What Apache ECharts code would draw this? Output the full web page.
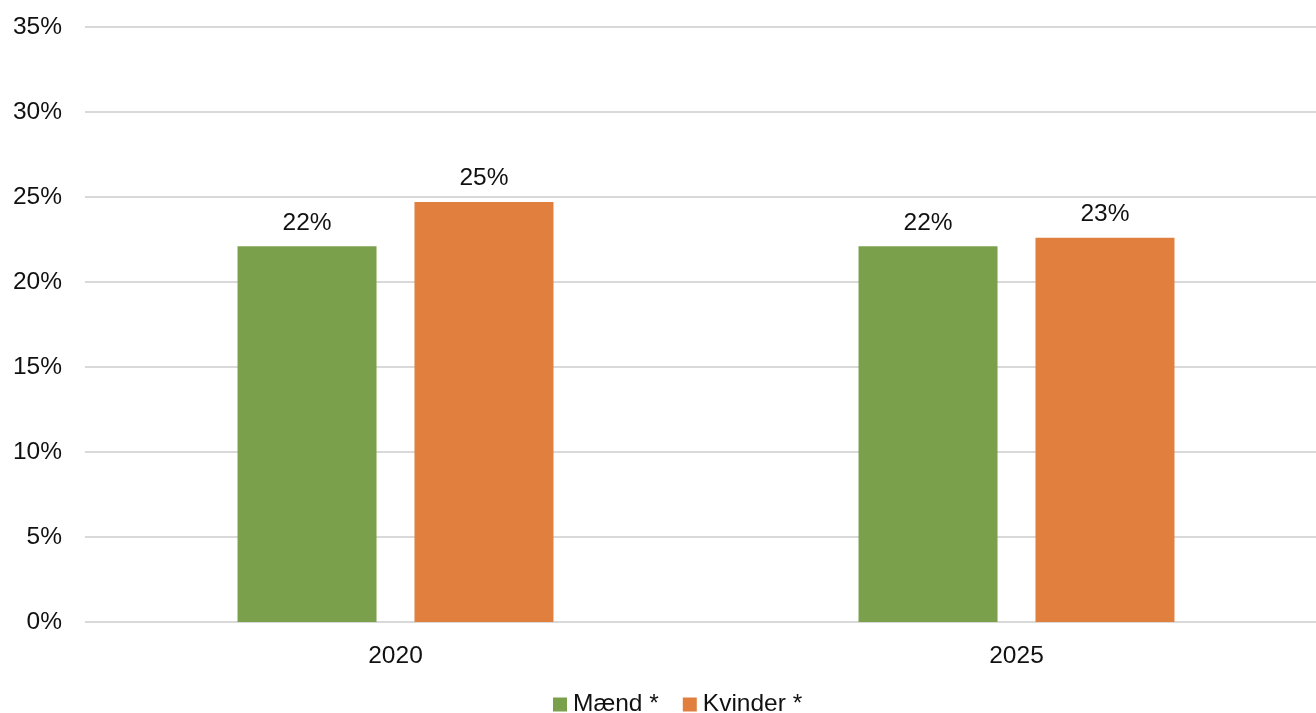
<!DOCTYPE html>
<html>
<head>
<meta charset="utf-8">
<style>
  html, body { margin: 0; padding: 0; background: #fff; }
  #chart { width: 1316px; height: 713px; }
</style>
<script src="https://cdn.jsdelivr.net/npm/echarts@6/dist/echarts.min.js"></script>
</head>
<body>
<div id="chart"></div>
<script>
// Andel i procent fordelt på køn og år
const years = ['2020', '2025'];
const maend = [22.1, 22.1];
const kvinder = [24.7, 22.6];
const yTicks = [0, 5, 10, 15, 20, 25, 30, 35];

const font = '"Liberation Sans", Arial, sans-serif';
const textColor = '#111';
const fs = 24.5;

const chart = echarts.init(document.getElementById('chart'), null, { renderer: 'canvas' });

const labelStyle = {
  show: true,
  position: 'top',
  distance: 11,
  fontFamily: font,
  fontSize: fs,
  color: textColor,
  formatter: p => Math.round(p.value) + '%'
};

chart.setOption({
  animation: false,
  backgroundColor: '#fff',
  textStyle: { fontFamily: font },
  // plot area runs slightly past the right edge of the canvas
  grid: { left: 85, width: 1242, top: 27, bottom: 91, containLabel: false, outerBoundsMode: 'none' },
  legend: {
    top: 687,
    left: 548,
    itemWidth: 14,
    itemHeight: 14,
    itemGap: 24,
    icon: 'rect',
    textStyle: { fontFamily: font, fontSize: fs, color: textColor, padding: [0, 0, 0, 1] },
    data: ['Mænd *', 'Kvinder *']
  },
  xAxis: {
    type: 'category',
    data: years,
    axisLine: { show: false },
    axisTick: { show: false },
    axisLabel: { fontFamily: font, fontSize: fs, color: textColor, margin: 22 }
  },
  yAxis: {
    type: 'value',
    min: yTicks[0],
    max: yTicks[yTicks.length - 1],
    interval: yTicks[1] - yTicks[0],
    axisLine: { show: false },
    axisTick: { show: false },
    axisLabel: { fontFamily: font, fontSize: fs, color: textColor, margin: 23, formatter: '{value}%' },
    splitLine: { lineStyle: { color: '#d9d9d9', width: 2 } }
  },
  series: [
    {
      name: 'Mænd *',
      type: 'bar',
      data: maend,
      barWidth: 139,
      barGap: '27.3%',
      itemStyle: { color: '#7aa04b' },
      label: labelStyle
    },
    {
      name: 'Kvinder *',
      type: 'bar',
      data: kvinder,
      barWidth: 139,
      barGap: '27.3%',
      itemStyle: { color: '#e07f3e' },
      label: labelStyle
    }
  ]
});
</script>
</body>
</html>
